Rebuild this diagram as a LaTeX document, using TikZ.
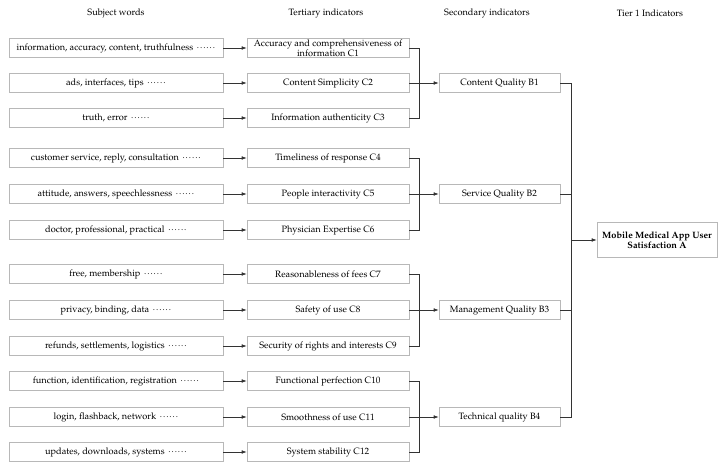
\documentclass[tikz,border=0pt]{standalone}
\usepackage[T1]{fontenc}
\usepackage{mathpazo}
\usetikzlibrary{positioning, calc, arrows.meta}
\tikzset{>={Latex[length=5pt,width=3.6pt]}}
\newcommand{\wdots}{\mbox{$\mkern2mu{\cdot}\mkern0.6mu{\cdot}\mkern0.6mu{\cdot}\mkern0.6mu{\cdot}\mkern0.6mu{\cdot}\mkern0.6mu{\cdot}$}}

\begin{document}
\begin{tikzpicture}
    [
        x=1pt, y=-1pt,
        font=\fontsize{9.2}{10}\selectfont,
        word_box/.style={draw=black!28, line width=0.6pt, minimum height=19pt, minimum width=214pt, inner sep=1pt},
        tert_box/.style={draw=black!28, line width=0.6pt, minimum height=19pt, minimum width=162pt, inner sep=1pt, align=center},
        sec_box/.style={draw=black!28, line width=0.6pt, minimum height=19pt, minimum width=121pt, inner sep=1pt},
        top_box/.style={draw=black!28, line width=0.6pt, minimum height=35pt, minimum width=120pt, inner sep=1pt, align=center, font=\fontsize{9.2}{10.5}\selectfont\bfseries},
        link/.style={draw=black!80, line width=0.6pt},
    ]
  \useasboundingbox (0,0) rectangle (724,467);

  % column titles
  \node (t1) at (116,13) {Subject words};
  \node (t2) at (326,13) {Tertiary indicators};
  \node (t3) at (487,13) {Secondary indicators};
  \node (t4) at (650,13) {Tier 1 Indicators};

  % subject words
  \node[word_box] (S1) at (116,48) {information, accuracy, content, truthfulness \wdots};
  \node[word_box] (S2) at (116,83) {ads, interfaces, tips \wdots};
  \node[word_box] (S3) at (116,118) {truth, error \wdots};
  \node[word_box] (S4) at (116,158) {customer service, reply, consultation \wdots};
  \node[word_box] (S5) at (116,194) {attitude, answers, speechlessness \wdots};
  \node[word_box] (S6) at (116,230) {doctor, professional, practical \wdots};
  \node[word_box] (S7) at (116,274) {free, membership \wdots};
  \node[word_box] (S8) at (116,310) {privacy, binding, data \wdots};
  \node[word_box] (S9) at (116,346) {refunds, settlements, logistics \wdots};
  \node[word_box] (S10) at (116,381) {function, identification, registration \wdots};
  \node[word_box] (S11) at (116,417) {login, flashback, network \wdots};
  \node[word_box] (S12) at (116,452) {updates, downloads, systems \wdots};

  % tertiary indicators
  \node[tert_box] (C1) at (328,48) {Accuracy and comprehensiveness of\\information C1};
  \node[tert_box] (C2) at (328,83) {Content Simplicity C2};
  \node[tert_box] (C3) at (328,118) {Information authenticity C3};
  \node[tert_box] (C4) at (328,158) {Timeliness of response C4};
  \node[tert_box] (C5) at (328,194) {People interactivity C5};
  \node[tert_box] (C6) at (328,230) {Physician Expertise C6};
  \node[tert_box] (C7) at (328,274) {Reasonableness of fees C7};
  \node[tert_box] (C8) at (328,310) {Safety of use C8};
  \node[tert_box] (C9) at (328,346) {Security of rights and interests C9};
  \node[tert_box] (C10) at (328,381) {Functional perfection C10};
  \node[tert_box] (C11) at (328,417) {Smoothness of use C11};
  \node[tert_box] (C12) at (328,452) {System stability C12};

  % secondary indicators
  \node[sec_box] (B1) at (499.5,83) {Content Quality B1};
  \node[sec_box] (B2) at (499.5,194) {Service Quality B2};
  \node[sec_box] (B3) at (499.5,310) {Management Quality B3};
  \node[sec_box] (B4) at (499.5,417) {Technical quality B4};

  % tier 1
  \node[top_box] (A) at (657,240) {Mobile Medical App User\\Satisfaction A};
  \coordinate (bus) at (571,240);

  % subject words -> tertiary
  \draw[link,->] (S1) -- (C1);
  \draw[link,->] (S2) -- (C2);
  \draw[link,->] (S3) -- (C3);
  \draw[link,->] (S4) -- (C4);
  \draw[link,->] (S5) -- (C5);
  \draw[link,->] (S6) -- (C6);
  \draw[link,->] (S7) -- (C7);
  \draw[link,->] (S8) -- (C8);
  \draw[link,->] (S9) -- (C9);
  \draw[link,->] (S10) -- (C10);
  \draw[link,->] (S11) -- (C11);
  \draw[link,->] (S12) -- (C12);

  % tertiary -> secondary
  \draw[link] (C1.east) -- ++(10,0) |- (C3.east);
  \draw[link,->] (C2) -- (B1);
  \draw[link] (C4.east) -- ++(10,0) |- (C6.east);
  \draw[link,->] (C5) -- (B2);
  \draw[link] (C7.east) -- ++(10,0) |- (C9.east);
  \draw[link,->] (C8) -- (B3);
  \draw[link] (C10.east) -- ++(10,0) |- (C12.east);
  \draw[link,->] (C11) -- (B4);

  % secondary -> tier 1
  \draw[link] (B1.east) -- ++(11,0) |- (B4.east);
  \draw[link] (B2.east) -- ++(11,0);
  \draw[link] (B3.east) -- ++(11,0);
  \draw[link,->] (bus) -- (A);
\end{tikzpicture}
\end{document}
